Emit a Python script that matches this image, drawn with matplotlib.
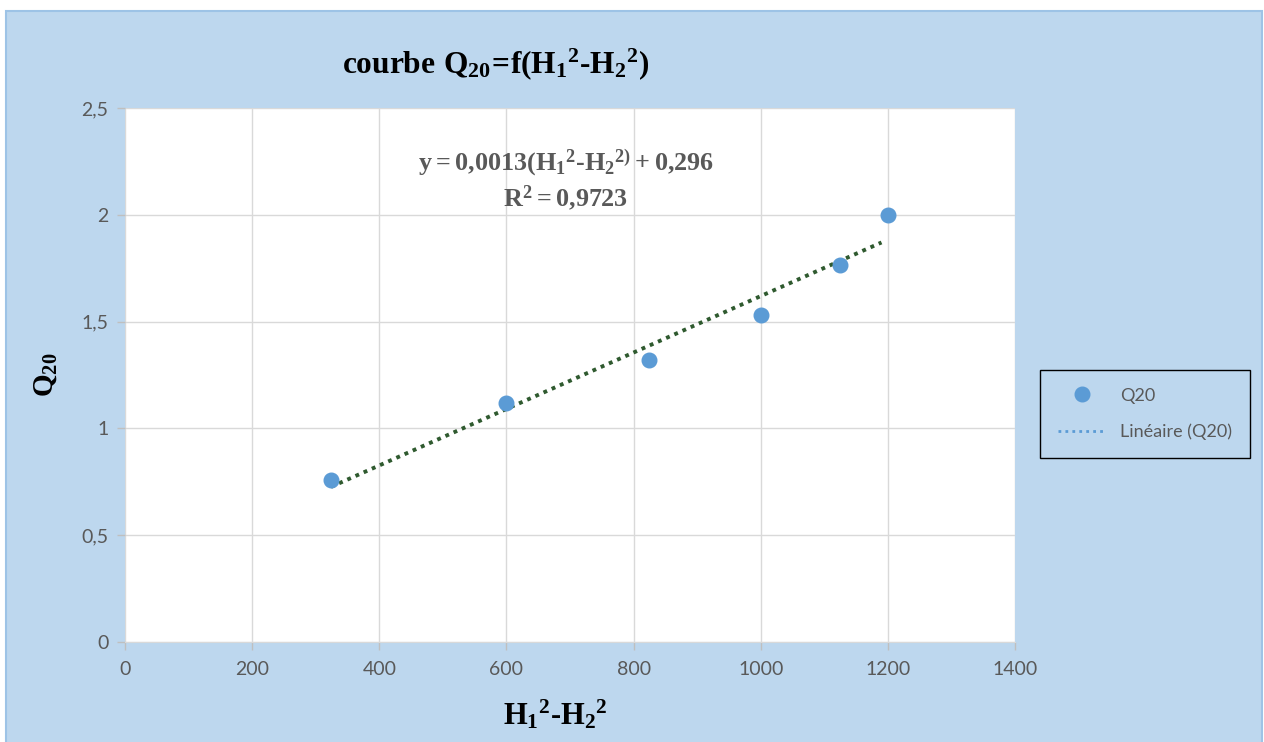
import matplotlib
matplotlib.use('Agg')
from matplotlib import pyplot
from matplotlib.lines import Line2D
from matplotlib.patches import Rectangle
import numpy

pyplot.rcParams['mathtext.fontset'] = 'custom'
pyplot.rcParams['mathtext.rm'] = 'Liberation Serif:bold'
pyplot.rcParams['mathtext.bf'] = 'Liberation Serif:bold'
pyplot.rcParams['mathtext.it'] = 'Liberation Serif:bold'

# donnees
h_diff = [324, 600, 825, 1000, 1125, 1200]
q20 = [0.758, 1.119, 1.32, 1.531, 1.765, 2.0]
y_ticks = [0, 0.5, 1, 1.5, 2, 2.5]
y_tick_labels = ['0', '0,5', '1', '1,5', '2', '2,5']
x_ticks = [0, 200, 400, 600, 800, 1000, 1200, 1400]

bg = '#bdd7ee'
grey = '#595959'
tickfont = ['Lato', 'DejaVu Sans']
hy = '\u2010'

fig = pyplot.figure(figsize=(12.64, 7.42), dpi=100)
fig.patch.set_facecolor('white')
fig.patches.append(Rectangle((6 / 1264, -0.01), 1256 / 1264, 0.01 + 731 / 742, transform=fig.transFigure,
                             facecolor=bg, edgecolor='#9dc3e6', linewidth=1.5, zorder=-5))

ax = fig.add_axes([125 / 1264, 1 - 642 / 742, 890 / 1264, 534 / 742], zorder=2)
ax.set_facecolor('white')
ax.set_xlim(0, 1400)
ax.set_ylim(0, 2.5)
ax.set_xticks(x_ticks)
ax.set_yticks(y_ticks)
ax.set_xticklabels([str(t) for t in x_ticks], family=tickfont, fontsize=14, color=grey)
ax.set_yticklabels(y_tick_labels, family=tickfont, fontsize=14, color=grey)
ax.tick_params(axis='both', color='#bfbfbf', length=6, width=1)
ax.tick_params(axis='x', pad=8)
ax.tick_params(axis='y', pad=6)
ax.grid(True, color='#d9d9d9', linewidth=1)
ax.set_axisbelow(True)
for side in ['top', 'right', 'left']:
    ax.spines[side].set_visible(False)
ax.spines['bottom'].set_color('#d9d9d9')

# courbe de tendance lineaire
a, b = numpy.polyfit(h_diff, q20, 1)
xs = numpy.array([min(h_diff), max(h_diff) - 10])
ax.plot(xs, a * xs + b, color='#2f5a2f', linestyle=(0, (1, 1.3)), linewidth=2.8, zorder=2)

ax.plot(h_diff, q20, linestyle='none', marker='o', markersize=10.5,
        markerfacecolor='#5b9bd5', markeredgecolor='#5b9bd5', zorder=3)

ax.text(0.495, 0.897, r'$\mathrm{y=0{,}0013(H_1{}^2' + hy + r'H_2{}^{2)}+0{,}296}$',
        transform=ax.transAxes, ha='center', va='center', fontsize=18.8, color=grey)
ax.text(0.495, 0.831, r'$\mathrm{R^2=0{,}9723}$', transform=ax.transAxes,
        ha='center', va='center', fontsize=18.8, color=grey)

fig.text(496 / 1264, 1 - 64 / 742, r'$\mathrm{courbe\ Q_{20}\!=\!f(H_1{}^2' + hy + r'H_2{}^2)}$',
         ha='center', va='center', fontsize=22.6, color='black')
fig.text(45 / 1264, 1 - 375 / 742, r'$\mathrm{Q_{20}}$', rotation=90,
         ha='center', va='center', fontsize=21, color='black')
fig.text(555 / 1264, 1 - 714 / 742, r'$\mathrm{H_1{}^2' + hy + r'H_2{}^2}$',
         ha='center', va='center', fontsize=22, color='black')

handles = [Line2D([], [], linestyle='none', marker='o', markersize=10.5,
                  markerfacecolor='#5b9bd5', markeredgecolor='#5b9bd5'),
           Line2D([], [], color='#5b9bd5', linestyle=(0, (1, 1.5)), linewidth=2)]
leg = fig.legend(handles, ['Q20', 'Linéaire (Q20)'], loc='center',
                 bbox_to_anchor=(1145 / 1264, 1 - 414 / 742),
                 prop={'family': tickfont, 'size': 13}, labelcolor=grey,
                 frameon=True, fancybox=False, edgecolor='black', facecolor=bg,
                 framealpha=1, handlelength=2.6, borderpad=1.0, labelspacing=1.1)
leg.get_frame().set_linewidth(1)

fig.savefig('out.png', dpi=100)
